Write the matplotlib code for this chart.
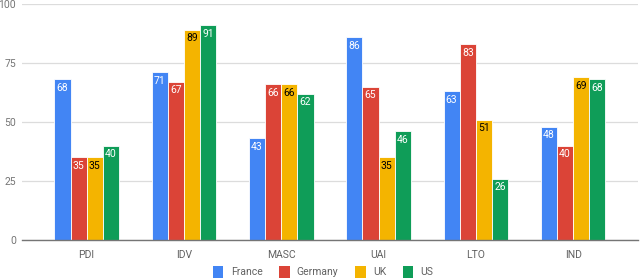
"""
Hofstede dimensions: France / Germany / UK / US
"""

import numpy as np
import matplotlib
matplotlib.use("Agg")
import matplotlib.pyplot as plt

plt.rcParams['font.family'] = ['Roboto', 'DejaVu Sans']

# data
dimensions = ["PDI", "IDV", "MASC", "UAI", "LTO", "IND"]
countries = ["France", "Germany", "UK", "US"]
france = [68, 71, 43, 86, 63, 48]
germany = [35, 67, 66, 65, 83, 40]
uk = [35, 89, 66, 35, 51, 69]
us = [40, 91, 62, 46, 26, 68]
yticks = [0, 25, 50, 75, 100]

series = [france, germany, uk, us]
colors = ["#4285F4", "#DB4437", "#F4B400", "#0F9D58"]
label_colors = ["white", "white", "black", "white"]

fig = plt.figure(figsize=(6.4, 2.8), dpi=100)
ax = fig.add_axes([0.034, 0.143, 0.963, 0.843])

x = np.arange(len(dimensions))
w = 0.166
for i, (vals, c, lc, name) in enumerate(zip(series, colors, label_colors, countries)):
    pos = x + (i - 1.5) * w
    bars = ax.bar(pos, vals, width=w, color=c, edgecolor="white", linewidth=0.6,
                  label=name, zorder=3)
    for b, v in zip(bars, vals):
        ax.text(b.get_x() + b.get_width() / 2, v - 1.5, str(v), ha="center", va="top",
                color=lc, fontsize=7.5, zorder=4)

# formatting
ax.set_xlim(-0.667, 5.667)
ax.set_ylim(0, 100)
ax.set_yticks(yticks)
ax.set_yticklabels([str(t) for t in yticks], fontsize=7.5, color="#757575")
ax.set_xticks(x)
ax.set_xticklabels(dimensions, fontsize=7.5, color="#616161")
ax.tick_params(length=0, pad=7)
ax.tick_params(axis="y", pad=4)
ax.grid(axis="y", color="#dcdcdc", linewidth=0.9, zorder=0)
for s in ["top", "right", "left"]:
    ax.spines[s].set_visible(False)
ax.spines["bottom"].set_color("#757575")
ax.spines["bottom"].set_linewidth(1.0)
ax.spines["bottom"].set_zorder(5)

# legend
leg = fig.legend(loc="lower center", bbox_to_anchor=(0.505, -0.025), ncol=4, frameon=False,
                 fontsize=7.5, handlelength=1.0, handleheight=1.3, handletextpad=0.7,
                 columnspacing=1.6)
for p in leg.get_patches():
    p.set_edgecolor("none")
for t in leg.get_texts():
    t.set_color("#616161")

plt.savefig("out.png", dpi=100)
